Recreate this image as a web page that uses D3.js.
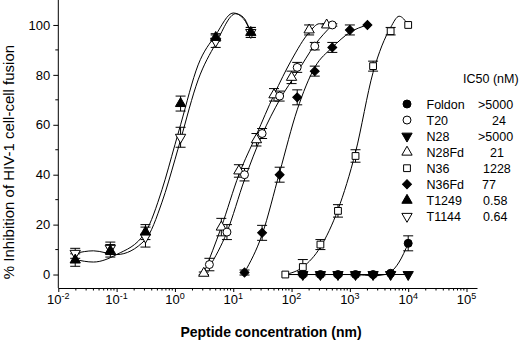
<!DOCTYPE html>
<html>
<head>
<meta charset="utf-8">
<script src="https://cdn.jsdelivr.net/npm/d3@7"></script>
<style>
  body { margin: 0; background: #fff; }
  text { font-family: "Liberation Sans", Arial, sans-serif; fill: #000; }
</style>
</head>
<body>
<script>
// DATA
const t1249X = [0.0195, 0.078, 0.3125, 1.25, 5, 20];
const t1249Y = [5.8, 9.5, 17, 68.5, 95, 97];
const t1249Err = [2.5, 2.5, 3, 3, 1.5, 2];
const t1249FitX = [0.0195, 0.04, 0.1, 0.3125, 0.6, 1, 1.25, 2.5, 5, 10, 15, 20];
const t1249FitY = [6, 5, 8, 17, 34, 52, 60, 84, 96, 104.8, 102.5, 97];

const t1144X = [0.0195, 0.078, 0.3125, 1.25, 5, 20];
const t1144Y = [8.5, 10.5, 15, 55, 93.5, 97];
const t1144Err = [2, 2.5, 4, 4, 2.5, 2];
const t1144FitX = [0.0195, 0.04, 0.1, 0.3125, 0.6, 1, 1.25, 2.5, 5, 11, 15, 20];
const t1144FitY = [8.5, 9.5, 8, 14, 29, 46, 54, 78, 92.5, 104.5, 103, 97];

const t20X = [3.9, 7.8, 15.6, 31.25, 62.5, 125, 250, 500];
const t20Y = [4, 17, 40, 56.5, 71.5, 83, 91.5, 100];
const t20Err = [2.5, 3, 2.5, 2, 2, 2, 1.5, 0.5];
const t20FitX = [3.9, 7.8, 15.6, 31.25, 62.5, 125, 250, 500];
const t20FitY = [3, 17, 38, 56, 70, 81, 92, 100];

const n28fdX = [3.125, 6.25, 12.5, 25, 50, 100, 200, 400];
const n28fdY = [0.5, 19, 41.5, 54, 72, 79, 98, 100];
const n28fdErr = [0.5, 3.5, 2.5, 2.5, 2.5, 2.5, 2, 0.5];
const n28fdFitX = [3.125, 6.25, 12.5, 25, 50, 100, 200, 300, 400];
const n28fdFitY = [0.5, 19, 40, 56, 72, 86, 97, 100.5, 100];

const n36fdX = [15.6, 31.25, 62.5, 125, 250, 500, 1000, 2000];
const n36fdY = [0.8, 16.7, 40, 71, 81.5, 91, 98, 100];
const n36fdErr = [1, 3, 3, 3, 2, 2, 2, 0];
const n36fdFitX = [15.6, 31.25, 62.5, 125, 250, 500, 1000, 2000];
const n36fdFitY = [0.8, 16, 41, 66, 83, 91, 97, 100];

const n36X = [78.1, 156, 312.5, 625, 1250, 2500, 5000, 10000];
const n36Y = [0, 3, 12, 25.5, 47.5, 83.5, 97.5, 100];
const n36Err = [0, 3, 2, 2.5, 2.5, 2, 1.5, 0];
const n36FitX = [78.1, 156, 312.5, 625, 1250, 2500, 5000, 7000, 10000];
const n36FitY = [0, 3, 11, 26, 49, 81, 99, 103.5, 100];

const foldonX = [156, 312.5, 625, 1250, 2500, 5000, 10000];
const foldonY = [0, 0, 0, 0, 0, 0.5, 12.5];
const foldonErr = [0.5, 0.5, 0.5, 0.5, 0.5, 0.5, 3];
const foldonFitX = [78.1, 1250, 2500, 4000, 5000, 7000, 10000];
const foldonFitY = [0, 0, -0.5, 0, 1, 5, 12.5];

const n28X = [156, 312.5, 625, 1250, 2500, 5000, 10000];
const n28Y = [0, 0, 0, 0, 0, 0, 0];
const n28Err = [0, 0, 0, 0, 0, 0, 0];
const n28FitX = [78.1, 10000];
const n28FitY = [0, 0];

const legendNames = ['Foldon', 'T20', 'N28', 'N28Fd', 'N36', 'N36Fd', 'T1249', 'T1144'];
const legendIC50 = ['>5000', '24', '>5000', '21', '1228', '77', '0.58', '0.64'];
const yTicks = [0, 20, 40, 60, 80, 100];
const xTickExps = [-2, -1, 0, 1, 2, 3, 4, 5];

// marker styles
const markers = {
  Foldon: {shape: d3.symbolCircle, size: 50, filled: true, rot: 0},
  T20: {shape: d3.symbolCircle, size: 50, filled: false, rot: 0},
  N28: {shape: d3.symbolTriangle, size: 46, filled: true, rot: 180},
  N28Fd: {shape: d3.symbolTriangle, size: 46, filled: false, rot: 0},
  N36: {shape: d3.symbolSquare, size: 46, filled: false, rot: 0},
  N36Fd: {shape: d3.symbolSquare, size: 40, filled: true, rot: 45},
  T1249: {shape: d3.symbolTriangle, size: 46, filled: true, rot: 0},
  T1144: {shape: d3.symbolTriangle, size: 46, filled: false, rot: 180}
};

const zip = (xs, ys) => xs.map((x, i) => ({x: x, y: ys[i]}));
// draw order: back to front
const series = [
  {name: 'N28', pts: zip(n28X, n28Y), err: n28Err, fit: zip(n28FitX, n28FitY)},
  {name: 'Foldon', pts: zip(foldonX, foldonY), err: foldonErr, fit: zip(foldonFitX, foldonFitY)},
  {name: 'N36', pts: zip(n36X, n36Y), err: n36Err, fit: zip(n36FitX, n36FitY)},
  {name: 'N36Fd', pts: zip(n36fdX, n36fdY), err: n36fdErr, fit: zip(n36fdFitX, n36fdFitY)},
  {name: 'N28Fd', pts: zip(n28fdX, n28fdY), err: n28fdErr, fit: zip(n28fdFitX, n28fdFitY)},
  {name: 'T20', pts: zip(t20X, t20Y), err: t20Err, fit: zip(t20FitX, t20FitY)},
  {name: 'T1144', pts: zip(t1144X, t1144Y), err: t1144Err, fit: zip(t1144FitX, t1144FitY)},
  {name: 'T1249', pts: zip(t1249X, t1249Y), err: t1249Err, fit: zip(t1249FitX, t1249FitY)}
];

// DEFS
const width = 520;
const height = 341;
const axisX = 58.3;
const axisY = 288;

const svg = d3.select('body').append('svg').attr('width', width).attr('height', height);

const x = d3.scaleLog().domain([0.01, Math.pow(10, 5.18)]).range([axisX, 477]);
const y = d3.scaleLinear().domain([-5.4, 110]).range([axisY, 0]);

const symbolPath = m => d3.symbol().type(m.shape).size(m.size)();

// AXES
const yAxis = d3.axisLeft(y).tickValues(yTicks).tickSize(5).tickPadding(3).tickSizeOuter(0);
const yAxisG = svg.append('g').attr('transform', `translate(${axisX},0)`).call(yAxis);
yAxisG.select('.domain').attr('d', `M0,${axisY}V0`);
yAxisG.selectAll('text').style('font-size', '13px').style('font-family', '"Liberation Sans", Arial, sans-serif');

// minor y ticks
svg.append('g').selectAll('line')
  .data(d3.range(10, 110, 20))
  .enter().append('line')
    .attr('x1', axisX - 3).attr('x2', axisX)
    .attr('y1', d => y(d)).attr('y2', d => y(d))
    .attr('stroke', '#000');

const xAxis = d3.axisBottom(x).tickValues(xTickExps.map(e => Math.pow(10, e))).tickSize(4).tickFormat('').tickSizeOuter(0);
const xAxisG = svg.append('g').attr('transform', `translate(0,${axisY})`).call(xAxis);

// minor x ticks
const minorX = [];
xTickExps.forEach(e => { if (e < 5) d3.range(2, 10).forEach(k => minorX.push(k * Math.pow(10, e))); });
svg.append('g').selectAll('line')
  .data(minorX.concat([2e5]).filter(v => x(v) <= 477))
  .enter().append('line')
    .attr('x1', d => x(d)).attr('x2', d => x(d))
    .attr('y1', axisY).attr('y2', axisY + 2.5)
    .attr('stroke', '#000');

// x tick labels with superscript exponents
const xLabels = svg.append('g').selectAll('text')
  .data(xTickExps)
  .enter().append('text')
    .attr('x', d => x(Math.pow(10, d)))
    .attr('y', 304)
    .attr('text-anchor', 'middle')
    .style('font-size', '13px');
xLabels.append('tspan').text('10');
xLabels.append('tspan').attr('dy', -5).style('font-size', '9px').text(d => d);

// axis titles
svg.append('text')
  .attr('x', 271).attr('y', 337)
  .attr('text-anchor', 'middle')
  .style('font-size', '14px').style('font-weight', 'bold')
  .text('Peptide concentration (nm)');

svg.append('text')
  .attr('transform', 'translate(14,162) rotate(-90)')
  .attr('text-anchor', 'middle')
  .style('font-size', '15px')
  .text('% Inhibition of HIV-1 cell-cell fusion');

// CURVES
const line = d3.line().x(d => x(d.x)).y(d => y(d.y)).curve(d3.curveMonotoneX);
svg.append('g').selectAll('path')
  .data(series)
  .enter().append('path')
    .attr('d', d => line(d.fit))
    .attr('fill', 'none')
    .attr('stroke', '#000')
    .attr('stroke-width', 1);

// ERROR BARS
const errG = svg.append('g');
series.forEach(s => {
  s.pts.forEach((p, i) => {
    const e = s.err[i];
    if (!e) return;
    const cx = x(p.x);
    [p.y - e, p.y + e].forEach(v => {
      errG.append('line').attr('x1', cx).attr('x2', cx).attr('y1', y(p.y)).attr('y2', y(v)).attr('stroke', '#000');
      errG.append('line').attr('x1', cx - 5).attr('x2', cx + 5).attr('y1', y(v)).attr('y2', y(v)).attr('stroke', '#000');
    });
  });
});

// MARKERS
series.forEach(s => {
  const m = markers[s.name];
  svg.append('g').selectAll('path')
    .data(s.pts)
    .enter().append('path')
      .attr('d', symbolPath(m))
      .attr('transform', d => `translate(${x(d.x)},${y(d.y)}) rotate(${m.rot})`)
      .attr('fill', m.filled ? '#000' : '#fff')
      .attr('stroke', '#000')
      .attr('stroke-width', 1);
});

// LEGEND
const legendG = svg.append('g');
legendG.append('text')
  .attr('x', 463).attr('y', 83)
  .style('font-size', '12.5px')
  .text('IC50 (nM)');

const icX = [478, 492, 478, 490, 483, 482, 483, 483];
const rows = legendG.selectAll('.row')
  .data(legendNames)
  .enter().append('g')
    .attr('class', 'row')
    .attr('transform', (d, i) => `translate(0,${104 + i * 16.05})`);
rows.append('path')
  .attr('d', d => symbolPath(markers[d]))
  .attr('transform', d => `translate(407,0) rotate(${markers[d].rot})`)
  .attr('fill', d => markers[d].filled ? '#000' : '#fff')
  .attr('stroke', '#000');
rows.append('text')
  .attr('x', 426.5).attr('y', 4.5)
  .style('font-size', '12.5px')
  .text(d => d);
rows.append('text')
  .attr('x', (d, i) => icX[i]).attr('y', 4.5)
  .style('font-size', '12.5px')
  .text((d, i) => legendIC50[i]);
</script>
</body>
</html>
